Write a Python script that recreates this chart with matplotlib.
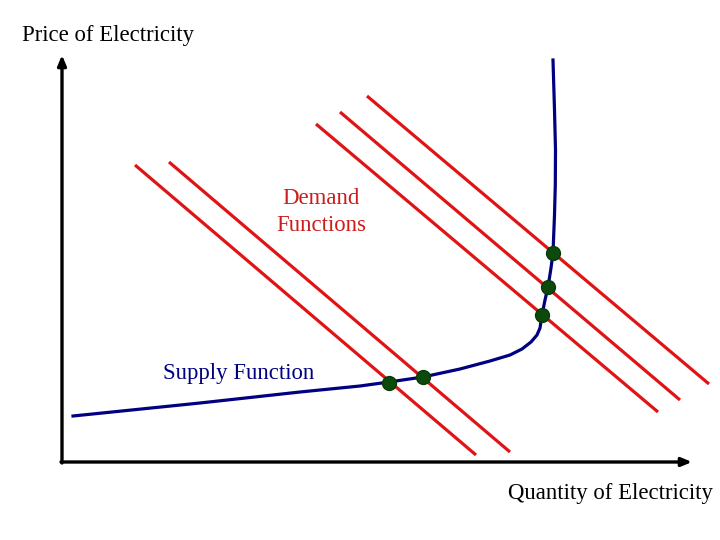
import matplotlib
matplotlib.use("Agg")
import matplotlib.pyplot as plt

# coordinates in picture units (x right, y down), 720 x 540 canvas
SUPPLY_X = [73, 200, 300, 360, 389, 423, 460, 490, 510, 522, 531, 537, 540, 542, 545, 548, 551, 553, 554.5, 555.3, 555.5, 554.5, 553]
SUPPLY_Y = [416, 403, 392, 386, 382, 377, 369, 361, 355, 349, 342, 335, 328, 315, 300, 287, 268, 253, 215, 185, 150, 110, 60]

DEMAND_X0 = [135, 169, 316, 340, 367]
DEMAND_Y0 = [165, 162, 124, 112, 96]
DEMAND_X1 = [476, 510, 658, 680, 709]
DEMAND_Y1 = [455, 452, 412, 400, 384]

EQ_X = [389, 423, 542, 548, 553]
EQ_Y = [383, 377, 315, 287, 253]

RED = "#e01414"
NAVY = "#000080"
SERIF = ["Liberation Serif", "DejaVu Serif"]

fig = plt.figure(figsize=(7.2, 5.4), dpi=100)
ax = fig.add_axes([0, 0, 1, 1])
ax.set_xlim(0, 720)
ax.set_ylim(540, 0)
ax.axis("off")

# axes with arrows
ax.annotate("", xy=(62, 55), xytext=(62, 463),
            arrowprops=dict(arrowstyle="-|>,head_length=0.6,head_width=0.25", lw=2.4, color="black",
                            shrinkA=0, shrinkB=0))
ax.annotate("", xy=(692, 462), xytext=(61, 462),
            arrowprops=dict(arrowstyle="-|>,head_length=0.6,head_width=0.25", lw=2.4, color="black",
                            shrinkA=0, shrinkB=0))

for x0, y0, x1, y1 in zip(DEMAND_X0, DEMAND_Y0, DEMAND_X1, DEMAND_Y1):
    ax.plot([x0, x1], [y0, y1], color=RED, lw=2.3, solid_capstyle="butt")

ax.plot(SUPPLY_X, SUPPLY_Y, color=NAVY, lw=2.3, solid_joinstyle="round")

ax.plot(EQ_X, EQ_Y, "o", ms=10, color="#0b4a0b", mec="#0b3a0b", zorder=5)

ax.text(22, 35, "Price of Electricity", fontsize=16.4, family=SERIF, va="center", ha="left")
ax.text(713, 494, "Quantity of Electricity", fontsize=16.4, family=SERIF, va="center", ha="right")
ax.text(321, 212, "Demand\nFunctions", fontsize=16.4, family=SERIF, va="center", ha="center",
        color="#cc1c1c", linespacing=1.35)
ax.text(163, 373, "Supply Function", fontsize=16.4, family=SERIF, va="center", ha="left", color=NAVY)

fig.savefig("out.png", dpi=100)
